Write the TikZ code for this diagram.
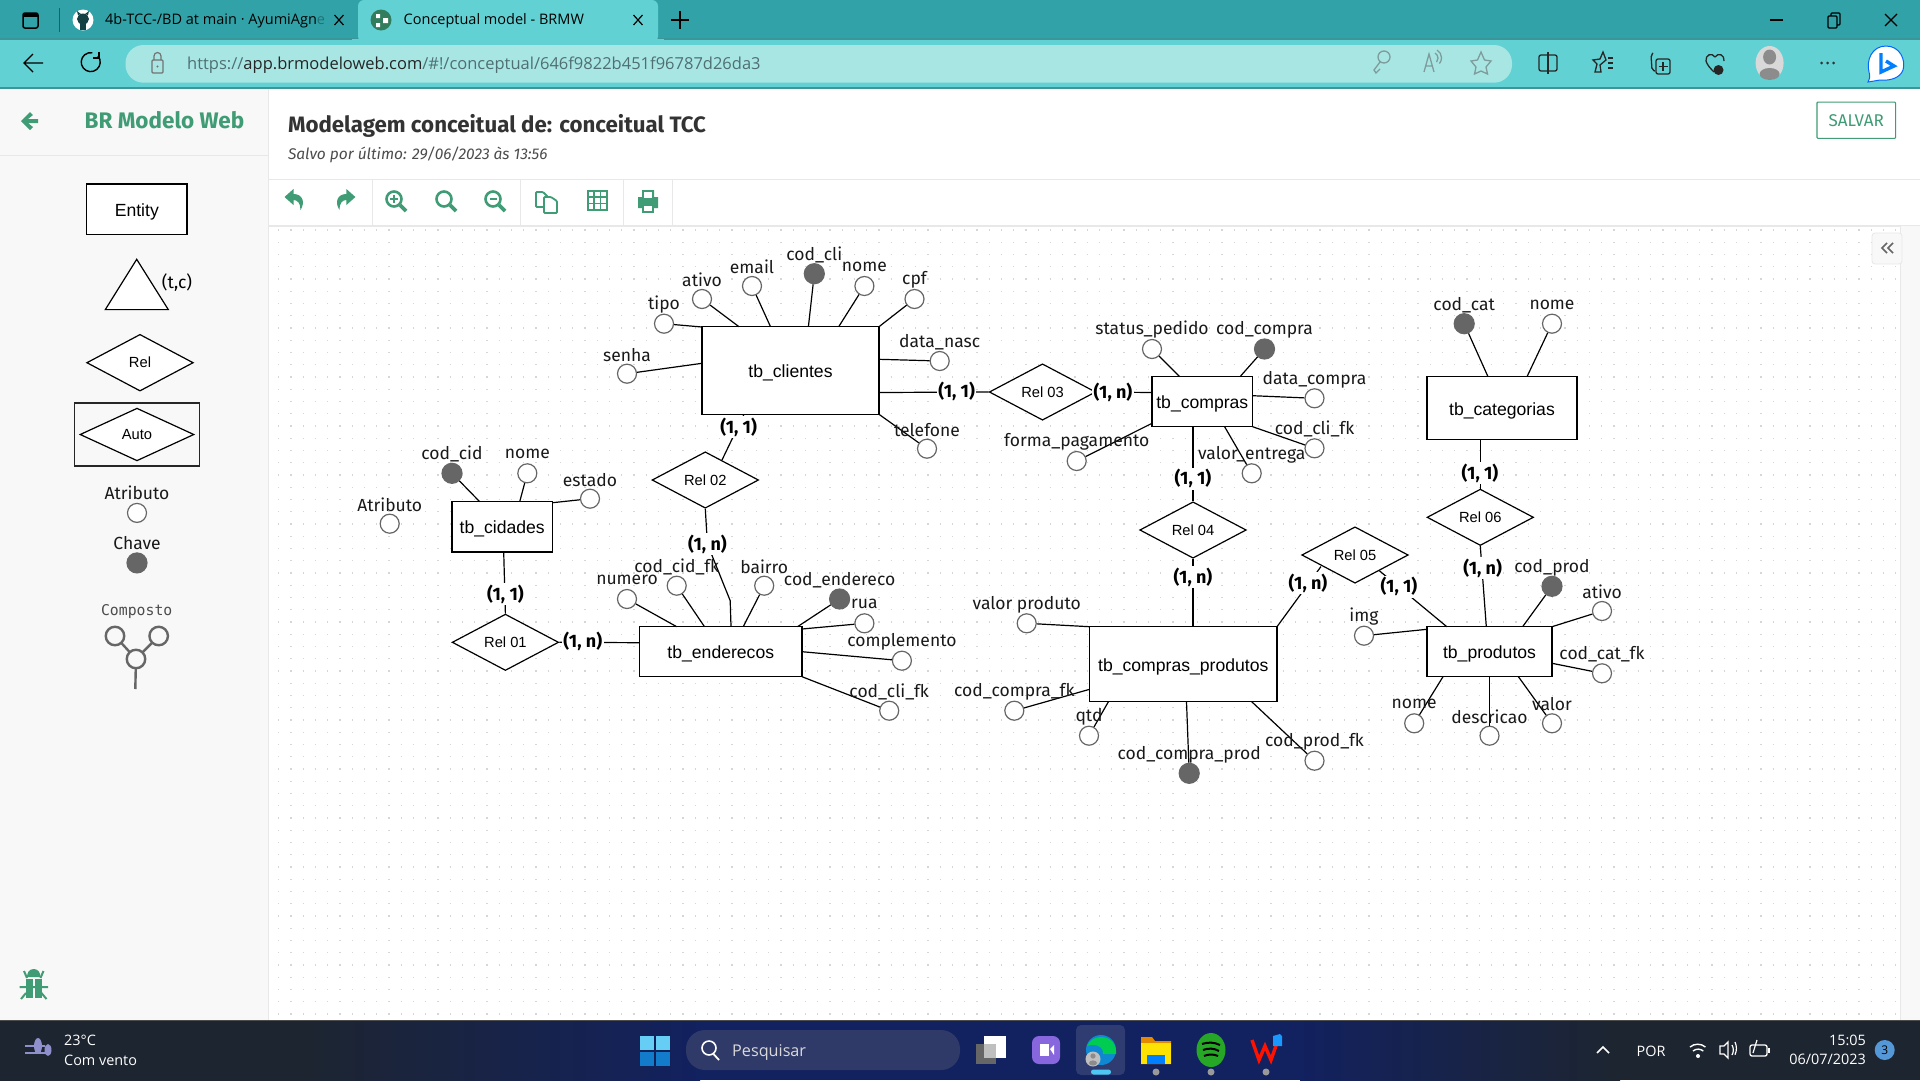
\documentclass[tikz,border=0pt]{standalone}
\usepackage{fontspec}
\setmainfont{Fira Sans}
\newfontfamily\arialf{Liberation Sans}
\newfontfamily\segoef{Open Sans}
\newfontfamily\monof{DejaVu Sans Mono}
\usetikzlibrary{shapes.geometric,calc}
\definecolor{tabbar}{HTML}{31A3A8}
\definecolor{toolb}{HTML}{62D1D3}
\definecolor{urlbar}{HTML}{A8E6E4}
\definecolor{edgeln}{HTML}{3C9599}
\definecolor{brgreen}{HTML}{3F9C74}
\definecolor{panel}{HTML}{F8F8F8}
\definecolor{rulec}{HTML}{E8E8E8}
\definecolor{dotc}{HTML}{D6D6D6}
\definecolor{keyc}{HTML}{666666}
\definecolor{taskd}{HTML}{1D2530}
\definecolor{taskb}{HTML}{12215F}
\definecolor{pillc}{HTML}{2F3A68}
\definecolor{urlgrey}{HTML}{4F6F72}
\definecolor{icong}{HTML}{7E9C9C}
\tikzset{
  entitybox/.style={draw=black,fill=white,line width=1.3pt,inner sep=0pt,text height=14pt,text depth=0pt,font=\arialf\fontsize{17.6}{20}\selectfont},
  relbox/.style={draw=black,fill=white,line width=1.2pt,diamond,aspect=1.89,inner sep=0pt,font=\arialf\fontsize{14.7}{17}\selectfont},
  attrnode/.style={circle,draw=keyc,fill=white,line width=1.2pt,minimum size=19pt,inner sep=0pt},
  keynode/.style={circle,draw=keyc,fill=keyc,line width=1.2pt,minimum size=20pt,inner sep=0pt},
  alabel/.style={inner sep=0pt,text=black!90,font=\fontsize{17.5}{20}\selectfont},
  cardlabel/.style={fill=white,inner sep=1.5pt,text=black,font=\bfseries\fontsize{18}{20}\selectfont},
  conn/.style={draw=black,line width=1.2pt},
  uitext/.style={inner sep=0pt,anchor=west,font=\segoef\fontsize{14.5}{18}\selectfont},
  ticon/.style={fill=brgreen,draw=none},
  ticonl/.style={draw=brgreen,line width=2.6pt,fill=none},
  bicon/.style={draw=black!85,line width=1.3pt,fill=none},
  gicon/.style={draw=icong,line width=1.3pt,fill=none},
  trayt/.style={inner sep=0pt,text=white,font=\segoef\fontsize{14.4}{16}\selectfont},
}
\newcommand{\attrib}[7]{%
  \node[#1] (#2) at (#3,#4) {};
  \coordinate (#2-e) at (#6,#7);
  \draw[conn] (#2) -- (#2-e);
  \node[alabel] (#2-l) at (#3,#4-19) {#5};
}
\begin{document}
\begin{tikzpicture}[x=1pt,y=-1pt]
\useasboundingbox (0,0) rectangle (1920,1080);
% page
\fill[white] (0,0) rectangle (1920,1080);
\fill[panel] (0,88) rectangle (268,1020);
\draw[rulec,line width=1pt] (268,88) -- (268,1020);
\draw[rulec,line width=1pt] (0,155) -- (268,155);
\draw[rulec,line width=1pt] (268,179) -- (1920,179);
\draw[rulec,line width=2pt] (268,226) -- (1920,226);
\foreach \xx in {372,520.5,623,672} \draw[rulec,line width=1pt] (\xx,179) -- (\xx,226);
% grid of dots
\foreach \k in {0,...,64} \draw[dotc,line width=1.3pt,dash pattern=on 1.3pt off 10.95pt] (278,{230+12.25*\k}) -- (1897,{230+12.25*\k});
\fill[panel] (1900,226) rectangle (1920,1020);
\draw[rulec,line width=1pt] (1900,226) -- (1900,1020);
\fill[panel,draw=rulec,line width=.8pt,rounded corners=3pt] (1872,233) rectangle (1902,264);
\draw[black!60,line width=1.6pt] (1887,243) -- (1882,248) -- (1887,253) (1893,243) -- (1888,248) -- (1893,253);
% browser chrome
\fill[tabbar] (0,0) rectangle (1920,39);
\fill[toolb] (0,39) rectangle (1920,88);
\draw[edgeln,line width=1.2pt] (0,39) -- (358,39) (658,39) -- (1920,39);
\draw[edgeln,line width=1.2pt] (0,88) -- (1920,88);
\fill[toolb,rounded corners=6pt] (358,42) -- (358,0) -- (658,0) -- (658,42) -- cycle;
\fill[toolb] (352,39) rectangle (664,44);
\draw[black,line width=1.5pt,rounded corners=2pt] (23,13) rectangle (38,28);
\fill[black] (23,13) rectangle (38,17);
\draw[black!70,line width=1pt] (59,8) -- (59,32);
% github icon
\fill[white] (83,20) circle (10.5);
\fill[tabbar!40!black] (83,19) ellipse (6 and 5.5);
\fill[tabbar!40!black] (78,15) -- (77,11) -- (81,14) -- cycle (88,15) -- (89,11) -- (85,14) -- cycle;
\fill[tabbar!40!black] (80,22) rectangle (86,30);
\node[uitext] (tabone) at (105,21) {4b-TCC-/BD at main · AyumiAgn\textcolor{black!30!tabbar}{e}};
\draw[black,line width=1.2pt] (334.5,15) -- (343.5,25) (343.5,15) -- (334.5,25);
% brmw tab icon
\fill[brgreen!80!black] (381,20) circle (10.5);
\fill[white] (376,14) rectangle (380,18) (376,23) rectangle (380,27) (383,18) rectangle (388,23);
\node[uitext] (tabtwo) at (403.5,21) {Conceptual model - BRMW};
\draw[black,line width=1.2pt] (633.5,15) -- (642.5,25) (642.5,15) -- (633.5,25);
\draw[black,line width=1.4pt] (671,20) -- (689,20) (680,11) -- (680,29);
% window controls
\draw[black,line width=1.2pt] (1770,20) -- (1783,20);
\draw[black,line width=1.2pt,rounded corners=1pt] (1828,16) rectangle (1837,28) (1831,16) -- (1831,13) -- (1840,13) -- (1840,25) -- (1837,25);
\draw[black,line width=1.2pt] (1885,14) -- (1897,26) (1897,14) -- (1885,26);
% navigation
\draw[black,line width=1.4pt] (43,63) -- (25,63) (33,54) -- (24,63) -- (33,72);
\draw[black,line width=1.4pt] (98,56) arc (-40:280:9.5);
\draw[black,line width=1.4pt] (99,52) -- (99,58) -- (93,58);
% address bar
\fill[urlbar,rounded corners=18pt] (125.5,45) rectangle (1512,82.7);
\draw[black!55,line width=1.2pt,rounded corners=1pt] (152,60) rectangle (163,73);
\draw[black!55,line width=1.2pt] (154,60) -- (154,56) arc (180:360:3.5) -- (161,60);
\fill[black!55] (157.5,66.5) circle (1.2);
\node[uitext,font=\segoef\fontsize{16.5}{20}\selectfont] (urltxt) at (187,65) {\textcolor{urlgrey}{https://}\textcolor{black!85}{app.brmodeloweb.com}\textcolor{urlgrey}{/\#!/conceptual/646f9822b451f96787d26da3}};
\draw[gicon] (1384,57) circle (6) (1380,62) -- (1374,70) -- (1376,73) -- (1380,69);
\draw[gicon] (1424,72) -- (1429,54) -- (1434,72) (1426,66) -- (1432,66);
\draw[gicon] (1435,53) arc (-60:40:6) (1437,50) arc (-60:40:9);
\draw[gicon] (1481,52) -- (1484.5,60) -- (1491,61) -- (1486,67) -- (1487.5,74) -- (1481,71) -- (1474.5,74) -- (1476,67) -- (1471,61) -- (1477.5,60) -- cycle;
% toolbar icons
\draw[bicon,rounded corners=2pt] (1539,55) rectangle (1557,71);
\draw[bicon] (1548,52) -- (1548,74);
\draw[bicon] (1603,52) -- (1606,60) -- (1600,65) -- (1601,72) -- (1595,72) -- (1597,64) -- (1593,60) -- (1600,59) -- cycle;
\draw[bicon] (1608,58) -- (1613,58) (1608,63) -- (1613,63) (1608,68) -- (1613,68);
\draw[bicon,rounded corners=2pt] (1653,53) -- (1651,55) -- (1652,70) -- (1655,71);
\draw[bicon,rounded corners=2pt] (1656,59) rectangle (1670,74);
\draw[bicon] (1663,62) -- (1663,71) (1658.5,66.5) -- (1667.5,66.5);
\draw[bicon] (1715,57) .. controls (1712,52) and (1705,55) .. (1706,61) .. controls (1707,65) and (1711,69) .. (1714,72) (1715,57) .. controls (1718,52) and (1725,55) .. (1724,61);
\fill[black!85] (1718.5,70) circle (5);
\fill[black!15] (1769.6,63) ellipse (14 and 17);
\fill[black!45] (1769.6,57) ellipse (6.5 and 7.5);
\fill[black!45] (1769.6,74) ellipse (10 and 6);
\fill[black!80] (1821.7,63) circle (1.5) (1827.7,63) circle (1.5) (1833.7,63) circle (1.5);
% bing
\fill[white,draw=blue!60!cyan,line width=1pt] (1868,82) .. controls (1870,78) and (1870,76) .. (1869,72) .. controls (1866,60) and (1872,46) .. (1886,46) .. controls (1900,46) and (1906,60) .. (1903,70) .. controls (1900,78) and (1890,81) .. (1880,80) -- cycle;
\draw[blue!50!cyan,line width=3.4pt] (1881,53) -- (1881,72) -- (1894,66) -- (1886,61);
% sidebar header
\fill[brgreen] (21,121) -- (30,112) -- (33,115) -- (28,119) -- (38,119) -- (38,123) -- (28,123) -- (33,127) -- (30,130) -- cycle;
\node[inner sep=0pt,anchor=west,text=brgreen,font=\bfseries\fontsize{22.5}{24}\selectfont] (brand) at (84.5,120.5) {BR Modelo Web};
\node[inner sep=0pt,anchor=west,text=black!80,font=\bfseries\fontsize{22.3}{24}\selectfont] (modtitle) at (287.8,125.5) {Modelagem conceitual de: conceitual TCC};
\node[inner sep=0pt,anchor=west,text=black!70,font=\itshape\fontsize{15.5}{18}\selectfont] (saved) at (287.8,155) {Salvo por último: 29/06/2023 às 13:56};
\node[draw=brgreen,line width=1.1pt,rounded corners=1pt,minimum width=78.7pt,minimum height=36.3pt,inner sep=0pt,text=brgreen,font=\fontsize{17}{20}\selectfont] (save) at (1856.3,120.2) {SALVAR};
% tool icons
\begin{scope}[shift={(294.5,200)}]
\fill[ticon] (-10,-3) -- (-1,-11) -- (-1,-6) .. controls (8,-6) and (11,2) .. (6,10) .. controls (6,3) and (3,0) .. (-1,0) -- (-1,5) -- cycle;
\end{scope}
\begin{scope}[shift={(345.4,200)},xscale=-1]
\fill[ticon] (-10,-3) -- (-1,-11) -- (-1,-6) .. controls (8,-6) and (11,2) .. (6,10) .. controls (6,3) and (3,0) .. (-1,0) -- (-1,5) -- cycle;
\end{scope}
\foreach \xx in {396,446,495} {
  \draw[ticonl] (\xx-2,199) circle (7.5);
  \draw[brgreen,line width=3.6pt] (\xx+4,205) -- (\xx+10,211);
}
\draw[brgreen,line width=1.8pt] (390,199) -- (398,199) (394,195) -- (394,203);
\draw[brgreen,line width=1.8pt] (489.5,199) -- (496.5,199);
\draw[brgreen,line width=1.8pt,fill=white,rounded corners=1pt] (536,192) -- (543,192) -- (548,197) -- (548,207) -- (536,207) -- cycle;
\draw[brgreen,line width=1.8pt,fill=white,rounded corners=1pt] (544,197) -- (551,197) -- (557,201) -- (557,213) -- (544,213) -- cycle;
\draw[brgreen,line width=2pt] (587.5,191) rectangle (606.5,210);
\draw[brgreen,line width=1.6pt] (587.5,197) -- (606.5,197) (587.5,203.5) -- (606.5,203.5) (594,191) -- (594,210) (600.5,191) -- (600.5,210);
\fill[brgreen] (642,190) rectangle (654,198) (638,197) rectangle (658,208);
\fill[white] (644,192) rectangle (652,198);
\fill[brgreen] (642,206) rectangle (654,213);
\fill[white] (644,206) rectangle (652,211);
% sidebar shapes
\node[entitybox,minimum width=100.3pt,minimum height=50.6pt] (pentity) at (136.8,209.3) {Entity};
\coordinate (tria) at (136.7,259.3); \coordinate (trib) at (168.3,309.6); \coordinate (tric) at (105.3,309.6);
\filldraw[draw=black,fill=white,line width=1.2pt] (tria) -- (trib) -- (tric) -- cycle;
\node[inner sep=0pt,font=\fontsize{17.5}{20}\selectfont] (ptc) at (177,282.5) {(t,c)};
\node[relbox,minimum width=106.6pt,minimum height=56.7pt] (prel) at (140,362.7) {Rel};
\draw[black!85,line width=1.3pt] (74.3,402.9) rectangle (199.7,466);
\node[relbox,minimum width=114pt,minimum height=52.7pt] (pauto) at (137,434.5) {Auto};
\node[alabel] (patr) at (137,492.9) {Atributo};
\node[attrnode] (patrc) at (137,512.9) {};
\node[alabel] (pcha) at (137,542.9) {Chave};
\node[keynode] (pchac) at (137,562.9) {};
\node[inner sep=0pt,text=black!70,font=\monof\fontsize{14.8}{16}\selectfont] (pcom) at (136.7,611.8) {Composto};
\coordinate (pcomend) at (135.3,689);
\draw[keyc,line width=2.4pt] (115,636) -- (136,659) -- (158.7,636) (136,659) -- (pcomend);
\foreach \nm/\xx/\yy in {pca/115/636,pcb/158.7/636,pcc/136/659}
  \node[circle,draw=keyc,fill=panel,line width=2.4pt,minimum size=18.5pt,inner sep=0pt] (\nm) at (\xx,\yy) {};
% bug
\fill[brgreen] (33.7,969) .. controls (29,969) and (27,973) .. (27,977) -- (40.5,977) .. controls (40.5,973) and (38.5,969) .. (33.7,969) -- cycle;
\fill[brgreen] (25.5,978.5) rectangle (41.5,998) ;
\fill[panel] (33,978.5) rectangle (34.5,998);
\draw[brgreen,line width=2pt] (24,971) -- (27,978) (43.5,971) -- (40.5,978) (19.5,987) -- (48,987) (21,999) -- (26,993) (46.5,999) -- (41.5,993);
% ENTITIES
\node[entitybox,minimum width=177pt,minimum height=87.6pt] (tbcli) at (790.5,370.5) {tb\_clientes};
\node[entitybox,minimum width=100.6pt,minimum height=50pt] (tbcom) at (1202.3,401.7) {tb\_compras};
\node[entitybox,minimum width=150pt,minimum height=62.6pt] (tbcat) at (1502,408) {tb\_categorias};
\node[entitybox,minimum width=100.5pt,minimum height=50.3pt] (tbcid) at (502.2,526.8) {tb\_cidades};
\node[entitybox,minimum width=162.3pt,minimum height=50pt] (tbend) at (720.8,651.7) {tb\_enderecos};
\node[entitybox,minimum width=187.4pt,minimum height=75pt] (tbcp) at (1183.3,664.2) {tb\_compras\_produtos};
\node[entitybox,minimum width=125pt,minimum height=50pt] (tbpro) at (1489.5,651.7) {tb\_produtos};
% RELATIONS
\node[relbox,minimum width=106.5pt,minimum height=56.4pt] (rela) at (505.4,642.3) {Rel 01};
\node[relbox,minimum width=106.5pt,minimum height=56.4pt] (relb) at (705.3,480) {Rel 02};
\node[relbox,minimum width=106.5pt,minimum height=56.4pt] (relc) at (1042.5,392) {Rel 03};
\node[relbox,minimum width=106.5pt,minimum height=56.4pt] (reld) at (1193,530) {Rel 04};
\node[relbox,minimum width=106.5pt,minimum height=56.4pt] (rele) at (1355,555) {Rel 05};
\node[relbox,minimum width=106.5pt,minimum height=56.4pt] (relf) at (1480.3,517.3) {Rel 06};
% RELATIONSHIP CONNECTORS
\coordinate (cia) at (503.7,552); \draw[conn] (cia) -- (rela.north);
\coordinate (ea) at (639.7,642.7); \draw[conn] (rela.east) -- (ea);
\coordinate (cb) at (744,414.3); \coordinate (rb) at (722,460); \draw[conn] (cb) -- (rb);
\coordinate (cbn) at (707.4,544); \coordinate (bk) at (730.2,600.7); \coordinate (eb) at (731,626.7);
\draw[conn] (relb.south) -- (cbn) -- (bk) -- (eb);
\coordinate (cc) at (879,392.5); \draw[conn] (cc) -- (relc.west);
\coordinate (cca) at (1152,392.5); \draw[conn] (relc.east) -- (cca);
\coordinate (cd) at (1193,426.7); \draw[conn] (cd) -- (reld.north);
\coordinate (cpd) at (1193,626.7); \draw[conn] (reld.south) -- (cpd);
\coordinate (cpe) at (1277,626.7); \coordinate (re) at (1321,566.5); \draw[conn] (cpe) -- (re);
\coordinate (re2) at (1379.3,570.7); \coordinate (pe) at (1446.8,626.7); \draw[conn] (re2) -- (pe);
\coordinate (catf) at (1480.3,439.3); \draw[conn] (catf) -- (relf.north);
\coordinate (prf) at (1486.3,626.7); \draw[conn] (relf.south) -- (prf);
% CARDINALITIES
\node[cardlabel] (c1) at (505.4,594.3) {(1, 1)};
\node[cardlabel] (c2) at (582.8,641.7) {(1, n)};
\node[cardlabel] (c3) at (738.6,427.3) {(1, 1)};
\node[cardlabel] (c4) at (707.4,544) {(1, n)};
\node[cardlabel] (c5) at (956.6,391.7) {(1, 1)};
\node[cardlabel] (c6) at (1113,392.7) {(1, n)};
\node[cardlabel] (c7) at (1193,478.7) {(1, 1)};
\node[cardlabel] (c8) at (1193,577) {(1, n)};
\node[cardlabel] (c9) at (1308,583) {(1, n)};
\node[cardlabel] (c10) at (1399,586.7) {(1, 1)};
\node[cardlabel] (c11) at (1480,473.3) {(1, 1)};
\node[cardlabel] (c12) at (1482.6,568.3) {(1, n)};
% ATTRIBUTES tb_clientes
\attrib{attrnode}{ctipo}{664}{323.7}{tipo}{702}{327}
\attrib{attrnode}{cativo}{702}{299}{ativo}{739}{326.7}
\attrib{attrnode}{cemail}{752}{286}{email}{770.5}{326.7}
\attrib{keynode}{ccod}{814.3}{273.7}{cod\_cli}{808.4}{326.7}
\attrib{attrnode}{cnome}{864.4}{286}{nome}{838.7}{326.7}
\attrib{attrnode}{ccpf}{914.5}{299}{cpf}{879}{326.7}
\attrib{attrnode}{cdata}{939.7}{361}{data\_nasc}{879}{359.3}
\attrib{attrnode}{csenha}{627}{373.7}{senha}{702}{363.3}
\attrib{attrnode}{ctel}{927}{448.7}{telefone}{879}{414.3}
% tb_compras
\attrib{attrnode}{mstat}{1152}{349}{status\_pedido}{1179.6}{376.7}
\attrib{keynode}{mcod}{1264.5}{349}{cod\_compra}{1240}{376.7}
\attrib{attrnode}{mdata}{1314.5}{398.3}{data\_compra}{1252.6}{395.7}
\attrib{attrnode}{mfk}{1314.5}{448.3}{cod\_cli\_fk}{1252.6}{426.7}
\attrib{attrnode}{mval}{1251.7}{473.3}{valor\_entrega}{1224.6}{426.7}
\attrib{attrnode}{mforma}{1076.7}{461}{forma\_pagamento}{1152}{423.3}
% tb_compras_produtos
\attrib{attrnode}{pval}{1026.7}{623.3}{valor produto}{1089.6}{626.7}
\attrib{attrnode}{pfk}{1014.3}{710.7}{cod\_compra\_fk}{1089.6}{689.3}
\attrib{attrnode}{pqtd}{1089}{735.7}{qtd}{1108.4}{701.7}
\attrib{keynode}{pcod}{1189.2}{773.3}{cod\_compra\_prod}{1186.5}{701.7}
\attrib{attrnode}{pprod}{1314.5}{760.7}{cod\_prod\_fk}{1251.7}{701.7}
% tb_categorias
\attrib{keynode}{gcod}{1464.2}{323.7}{cod\_cat}{1488}{376.7}
\attrib{attrnode}{gnome}{1552}{323.7}{nome}{1527}{376.7}
% tb_produtos
\attrib{keynode}{rcod}{1552}{586.3}{cod\_prod}{1522.6}{626.7}
\attrib{attrnode}{rativo}{1602}{611}{ativo}{1552}{626.7}
\attrib{attrnode}{rfk}{1602}{673.3}{cod\_cat\_fk}{1552}{663.3}
\attrib{attrnode}{rval}{1552}{723.3}{valor}{1518.4}{676.7}
\attrib{attrnode}{rdesc}{1489.5}{735.7}{descricao}{1489.5}{676.7}
\attrib{attrnode}{rnome}{1414.2}{723.3}{nome}{1443}{676.7}
\attrib{attrnode}{rimg}{1364}{635.7}{img}{1427}{629.3}
% tb_cidades
\attrib{keynode}{dcod}{452}{473.3}{cod\_cid}{479.7}{501.7}
\attrib{attrnode}{dnome}{527.3}{473.3}{nome}{519.7}{501.7}
\attrib{attrnode}{dest}{590}{498.7}{estado}{552.5}{502.7}
% tb_enderecos
\attrib{attrnode}{enum}{627}{599}{numero}{676.7}{626.7}
\attrib{attrnode}{ecid}{676.7}{585.7}{cod\_cid\_fk}{704.5}{626.7}
\attrib{attrnode}{ebai}{764.2}{585.7}{bairro}{743.2}{626.7}
\attrib{keynode}{ecod}{839.6}{599}{cod\_endereco}{797.5}{626.7}
\attrib{attrnode}{erua}{864.4}{623.3}{rua}{802}{629}
\attrib{attrnode}{ecomp}{901.9}{660.7}{complemento}{802}{651.7}
\attrib{attrnode}{efk}{889.2}{710.7}{cod\_cli\_fk}{802}{676.7}
% loose attribute
\node[attrnode] (loose) at (389.7,523.7) {};
\node[alabel] (loosel) at (389.7,504.5) {Atributo};
% TASKBAR
\shade[left color=taskd,right color=taskd] (0,1020) rectangle (300,1080);
\shade[left color=taskd,right color=taskb] (300,1020) rectangle (700,1080);
\fill[taskb] (700,1020) rectangle (1300,1080);
\shade[left color=taskb,right color=taskd] (1300,1020) rectangle (1620,1080);
\fill[taskd] (1620,1020) rectangle (1920,1080);
\draw[black!70,line width=1pt] (0,1020) -- (1920,1020);
% weather
\fill[white!70!blue!80!black] (38,1046) ellipse (4 and 8);
\draw[white!70!blue!80!black,line width=2.4pt] (25,1046) -- (45,1046) (25,1053) -- (50,1053);
\fill[white!70!blue!80!black] (48,1050) ellipse (3.5 and 6);
\node[trayt,anchor=west] (temp) at (64,1040) {23°C};
\node[trayt,anchor=west] (wind) at (64,1060) {Com vento};
% start
\fill[cyan!60!white] (640,1036) rectangle (654,1050);
\fill[cyan!60!white] (655.5,1036) rectangle (669.5,1050);
\fill[cyan!60!blue] (640,1051.5) rectangle (654,1065.5);
\fill[cyan!60!blue] (655.5,1051.5) rectangle (669.5,1065.5);
% search
\fill[pillc,rounded corners=19pt] (686,1030) rectangle (960,1070);
\draw[white,line width=1.6pt] (709,1048) circle (7);
\draw[white,line width=1.8pt] (713.5,1054) -- (719,1060);
\node[trayt,anchor=west,text=white!85!black,font=\segoef\fontsize{16.2}{18}\selectfont] (search) at (732,1052) {Pesquisar};
% task icons
\fill[black!60] (976,1044) rectangle (996,1064);
\fill[white] (984,1036) rectangle (1006,1058);
\fill[white!75!black] (984,1044) rectangle (996,1058);
\fill[violet!45!blue!60!white,rounded corners=7pt] (1032,1036) rectangle (1060,1064);
\fill[white] (1040,1044) rectangle (1049,1056);
\fill[white] (1050,1049) -- (1054,1045) -- (1054,1055) -- cycle;
\fill[white!12!taskb,rounded corners=5pt] (1076,1025) rectangle (1125,1075);
\fill[cyan!70!blue] (1101,1050) circle (15);
\fill[green!60!cyan!80!black] (1101,1037) .. controls (1112,1037) and (1117,1046) .. (1116,1054) -- (1103,1054) .. controls (1104,1046) and (1094,1043) .. (1087,1046) .. controls (1090,1040) and (1095,1037) .. (1101,1037) -- cycle;
\fill[white!75!black] (1093,1059) circle (7.5);
\fill[black!45] (1093,1056) circle (2.6);
\fill[black!45] (1093,1063) ellipse (4 and 2.6);
\fill[cyan!70!white,rounded corners=2.5pt] (1091,1069.5) rectangle (1111,1074.5);
\fill[orange!80!yellow!90!black] (1141,1037) -- (1152,1037) -- (1155,1041) -- (1171,1041) -- (1171,1064) -- (1141,1064) -- cycle;
\fill[yellow!85!orange] (1141,1043) rectangle (1171,1064);
\fill[blue!50!cyan] (1147,1055) rectangle (1165,1064);
\fill[green!60!black!85!white] (1211,1050) ellipse (14.5 and 17);
\draw[black,line width=2pt] (1202,1044) .. controls (1208,1042) and (1214,1042) .. (1220,1045);
\draw[black,line width=2pt] (1203,1050) .. controls (1208,1048) and (1214,1048) .. (1219,1051);
\draw[black,line width=2pt] (1204,1056) .. controls (1208,1054) and (1214,1054) .. (1218,1056);
\draw[red!85!orange,line width=3.4pt] (1252,1040) -- (1259,1060) -- (1265,1046) -- (1271,1060) -- (1278,1040);
\fill[blue!45!cyan!90!white] (1273,1036) -- (1280,1034) -- (1282,1036) -- (1282,1046) -- (1273,1046) -- cycle;
\foreach \xx in {1156,1211,1266} \fill[white!60!black] (\xx,1072) circle (3.5);
% tray
\draw[white,line width=1.6pt] (1597,1053) -- (1603,1047) -- (1609,1053);
\node[trayt] (lang) at (1651,1051) {POR};
\draw[white,line width=1.4pt] (1690,1047) arc (-130:-50:12) (1693,1051) arc (-130:-50:8);
\fill[white] (1698,1056) circle (2);
\draw[white,line width=1.3pt] (1720,1046) -- (1724,1046) -- (1728,1042) -- (1728,1058) -- (1724,1054) -- (1720,1054) -- cycle;
\draw[white,line width=1.2pt] (1732,1045) arc (-30:30:10) (1735,1042) arc (-25:25:15);
\draw[white,line width=1.3pt,rounded corners=2pt] (1750,1045) rectangle (1767,1056);
\fill[white] (1768,1048) rectangle (1770,1053);
\draw[white,line width=1.2pt] (1753,1053) -- (1757,1040);
\node[trayt,anchor=east] (clock) at (1866,1040) {15:05};
\node[trayt,anchor=east] (date) at (1866,1059) {06/07/2023};
\node[circle,fill=cyan!60!blue!70!white,minimum size=20pt,inner sep=0pt,text=black,font=\segoef\fontsize{12}{14}\selectfont] (badge) at (1884.7,1050) {3};
\end{tikzpicture}
\end{document}
